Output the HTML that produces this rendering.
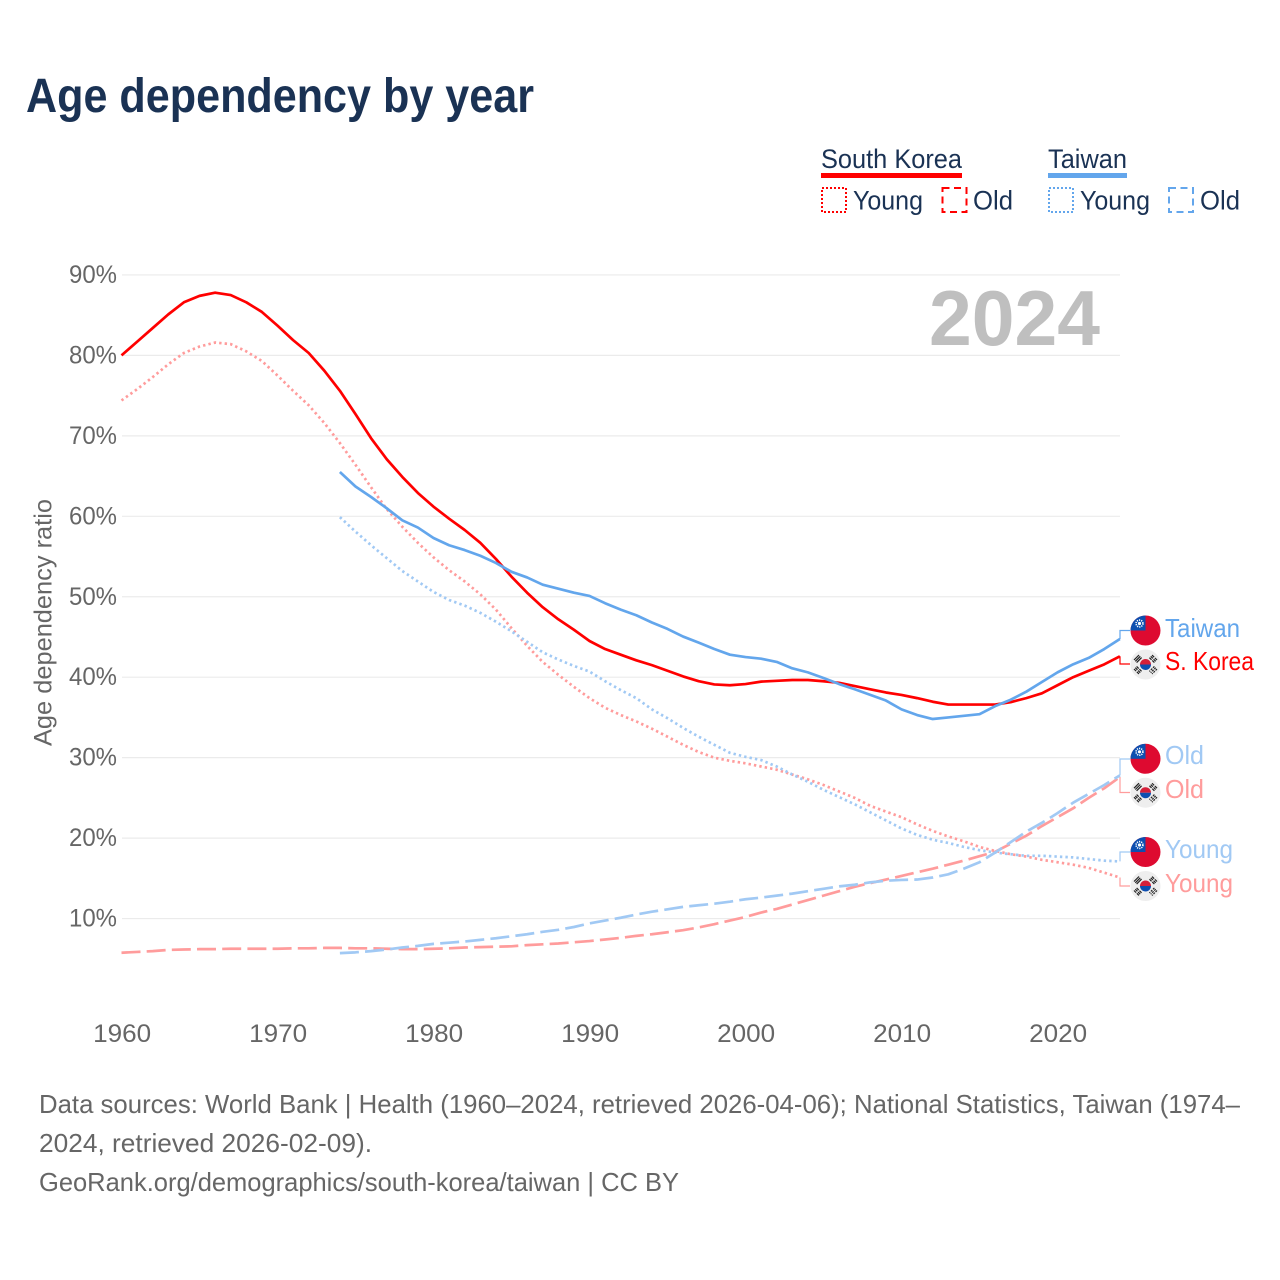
<!DOCTYPE html>
<html lang="en">
<head>
<meta charset="utf-8">
<title>Age dependency by year</title>
<style>
html,body{margin:0;padding:0;background:#fff;}
svg{display:block;font-family:"Liberation Sans",sans-serif;}
</style>
</head>
<body>
<svg id="chart" xmlns="http://www.w3.org/2000/svg" width="1280" height="1280" viewBox="0 0 1280 1280">
  <defs>
    <clipPath id="tw-clip"><circle cx="0" cy="0" r="15"/></clipPath>
    <symbol id="flag-tw" viewBox="-15 -15 30 30" overflow="visible">
      <circle r="15" fill="#de0a30"/>
      <g clip-path="url(#tw-clip)"><rect x="-15" y="-15" width="15" height="15" fill="#0d4fb0"/></g>
      <circle cx="-6" cy="-7" r="3.4" fill="#0d4fb0" stroke="#fff" stroke-width="1.6" stroke-dasharray="1.2 1"/>
      <circle cx="-6" cy="-7" r="1.6" fill="#fff"/>
    </symbol>
    <symbol id="flag-kr" viewBox="-15 -15 30 30" overflow="visible">
      <circle r="15" fill="#eeeeee"/>
      <path d="M-5.5 0A5.5 5.5 0 0 1 5.5 0Z" fill="#d5203a"/>
      <path d="M-5.5 0A5.5 5.5 0 0 0 5.5 0Z" fill="#0d4fb0"/>
      <g stroke="#222" stroke-width="1.2">
        <path d="M-11.5 -4.5L-6.5 -9.5M-10.2 -3.2L-5.2 -8.2M-8.9 -1.9L-3.9 -6.9" transform="rotate(0)" stroke-dasharray="none"/>
        <path d="M11.5 -4.5L6.5 -9.5M10.2 -3.2L5.2 -8.2M8.9 -1.9L3.9 -6.9" stroke-dasharray="3 1"/>
        <path d="M-11.5 4.5L-6.5 9.5M-10.2 3.2L-5.2 8.2M-8.9 1.9L-3.9 6.9" stroke-dasharray="3 1"/>
        <path d="M11.5 4.5L6.5 9.5M10.2 3.2L5.2 8.2M8.9 1.9L3.9 6.9" stroke-dasharray="2 1"/>
      </g>
    </symbol>
  </defs>

  <text x="26" y="112" font-size="48" font-weight="700" fill="#1a3254" textLength="508" lengthAdjust="spacingAndGlyphs">Age dependency by year</text>

  <g font-size="27" fill="#1a3254">
    <g>
      <text x="821" y="168" textLength="141" lengthAdjust="spacingAndGlyphs">South Korea</text>
      <rect x="821" y="173" width="141" height="5" fill="#ff0000"/>
      <rect x="822" y="188" width="24" height="24" fill="none" stroke="#ff0000" stroke-width="2" stroke-dasharray="2 2"/>
      <text x="853" y="209.500" textLength="70" lengthAdjust="spacingAndGlyphs">Young</text>
      <rect x="942.500" y="188" width="24" height="24" fill="none" stroke="#ff0000" stroke-width="2" stroke-dasharray="7 4.500"/>
      <text x="973" y="209.500" textLength="40" lengthAdjust="spacingAndGlyphs">Old</text>
    </g>
    <g>
      <text x="1048" y="168" textLength="79" lengthAdjust="spacingAndGlyphs">Taiwan</text>
      <rect x="1048" y="173" width="79" height="5" fill="#63a6ec"/>
      <rect x="1049" y="188" width="24" height="24" fill="none" stroke="#63a6ec" stroke-width="2" stroke-dasharray="2 2"/>
      <text x="1080" y="209.500" textLength="70" lengthAdjust="spacingAndGlyphs">Young</text>
      <rect x="1169" y="188" width="24" height="24" fill="none" stroke="#63a6ec" stroke-width="2" stroke-dasharray="7 4.500"/>
      <text x="1200" y="209.500" textLength="40" lengthAdjust="spacingAndGlyphs">Old</text>
    </g>
  </g>

  <g id="grid"></g>
  <text x="929" y="345" font-size="78" font-weight="700" fill="#bfbfbf" textLength="171" lengthAdjust="spacingAndGlyphs">2024</text>
  <g id="y-ticks" font-size="25" fill="#666666"></g>
  <g id="x-ticks" font-size="25" fill="#666666"></g>
  <text transform="translate(51.500,746) rotate(-90)" font-size="25" fill="#666666" textLength="247" lengthAdjust="spacingAndGlyphs">Age dependency ratio</text>

  <g id="connectors"></g>
  <g id="series"></g>

  <g font-size="26">
    <use href="#flag-tw" x="1130.500" y="615.500" width="30" height="30"/>
    <text x="1165" y="637" fill="#63a6ec" textLength="75" lengthAdjust="spacingAndGlyphs">Taiwan</text>
    <use href="#flag-kr" x="1130.500" y="649.500" width="30" height="30"/>
    <text x="1165" y="670" fill="#ff0000" textLength="89" lengthAdjust="spacingAndGlyphs">S. Korea</text>
    <use href="#flag-tw" x="1130.500" y="743.800" width="30" height="30"/>
    <text x="1165" y="764" fill="#a1c9f4" textLength="39" lengthAdjust="spacingAndGlyphs">Old</text>
    <use href="#flag-kr" x="1130.500" y="777.700" width="30" height="30"/>
    <text x="1165" y="798" fill="#ff9c9c" textLength="39" lengthAdjust="spacingAndGlyphs">Old</text>
    <use href="#flag-tw" x="1130.500" y="837" width="30" height="30"/>
    <text x="1165" y="858" fill="#a1c9f4" textLength="68" lengthAdjust="spacingAndGlyphs">Young</text>
    <use href="#flag-kr" x="1130.500" y="871" width="30" height="30"/>
    <text x="1165" y="892" fill="#ff9c9c" textLength="68" lengthAdjust="spacingAndGlyphs">Young</text>
  </g>

  <g font-size="26" fill="#666666">
    <text x="39" y="1113" textLength="1201" lengthAdjust="spacingAndGlyphs">Data sources: World Bank | Health (1960–2024, retrieved 2026-04-06); National Statistics, Taiwan (1974–</text>
    <text x="39" y="1152" textLength="333" lengthAdjust="spacingAndGlyphs">2024, retrieved 2026-02-09).</text>
    <text x="39" y="1191" textLength="640" lengthAdjust="spacingAndGlyphs">GeoRank.org/demographics/south-korea/taiwan | CC BY</text>
  </g>
</svg>

<script>
const yTickValues = [10, 20, 30, 40, 50, 60, 70, 80, 90];
const yTickLabels = ["10%", "20%", "30%", "40%", "50%", "60%", "70%", "80%", "90%"];
const xTickValues = [1960, 1970, 1980, 1990, 2000, 2010, 2020];
const xTickLabels = ["1960", "1970", "1980", "1990", "2000", "2010", "2020"];

const koreaStartYear = 1960;
const taiwanStartYear = 1974;

const koreaTotal = [80.0,81.7,83.4,85.1,86.6,87.4,87.8,87.5,86.6,85.4,83.7,81.9,80.3,78.1,75.6,72.7,69.7,67.1,64.9,62.9,61.2,59.7,58.3,56.7,54.7,52.5,50.5,48.7,47.2,45.9,44.5,43.5,42.8,42.1,41.5,40.8,40.1,39.5,39.1,39.0,39.15,39.45,39.55,39.65,39.65,39.5,39.3,38.9,38.5,38.1,37.8,37.4,36.95,36.6,36.6,36.6,36.6,36.9,37.4,38.0,39.0,40.0,40.8,41.6,42.6];
const koreaYoung = [74.4,75.8,77.3,78.9,80.3,81.1,81.6,81.4,80.5,79.3,77.5,75.6,73.8,71.6,69.1,66.4,63.6,60.9,58.7,56.7,54.9,53.3,51.9,50.3,48.4,46.1,43.9,41.9,40.3,38.8,37.4,36.2,35.3,34.5,33.6,32.6,31.6,30.7,30.0,29.6,29.3,28.9,28.5,27.9,27.3,26.6,25.8,25.0,24.0,23.3,22.6,21.7,20.9,20.2,19.6,18.9,18.4,18.0,17.7,17.3,17.0,16.7,16.3,15.7,15.1];
const koreaOld = [5.75,5.85,5.95,6.1,6.15,6.2,6.2,6.25,6.25,6.25,6.25,6.3,6.3,6.35,6.35,6.3,6.3,6.25,6.2,6.2,6.25,6.3,6.4,6.45,6.5,6.55,6.7,6.8,6.9,7.05,7.2,7.4,7.6,7.85,8.05,8.3,8.55,8.9,9.3,9.75,10.2,10.75,11.2,11.75,12.3,12.85,13.4,13.95,14.4,14.85,15.3,15.75,16.2,16.7,17.2,17.75,18.3,19.3,20.3,21.5,22.6,23.7,25.0,26.2,27.6];

const taiwanTotal = [65.5,63.7,62.4,61.0,59.5,58.6,57.3,56.4,55.8,55.1,54.2,53.1,52.4,51.5,51.0,50.5,50.1,49.2,48.4,47.7,46.8,46.0,45.05,44.3,43.5,42.8,42.5,42.3,41.9,41.1,40.6,39.9,39.15,38.5,37.8,37.1,36.0,35.3,34.8,35.0,35.2,35.4,36.4,37.2,38.2,39.4,40.6,41.6,42.4,43.5,44.75];
const taiwanYoung = [59.9,58.1,56.4,54.8,53.2,51.9,50.6,49.6,48.9,48.0,46.9,45.7,44.4,43.1,42.2,41.4,40.7,39.5,38.4,37.4,36.0,34.9,33.7,32.6,31.6,30.6,30.1,29.7,28.9,27.9,27.0,26.0,25.1,24.2,23.2,22.2,21.2,20.4,19.8,19.4,18.9,18.5,18.2,18.0,17.8,17.8,17.7,17.6,17.4,17.2,17.1];
const taiwanOld = [5.7,5.8,5.95,6.15,6.4,6.6,6.85,7.0,7.15,7.35,7.55,7.8,8.05,8.35,8.6,8.95,9.4,9.75,10.1,10.5,10.85,11.15,11.45,11.65,11.85,12.1,12.4,12.6,12.85,13.1,13.4,13.7,14.0,14.2,14.5,14.7,14.8,14.85,15.1,15.5,16.2,17.0,18.2,19.5,20.8,21.9,23.1,24.4,25.5,26.6,27.8];

const SVG_NS = "http://www.w3.org/2000/svg";
function xScale(year) { return 121.5 + (year - 1960) * 15.6; }
function yScale(pct) { return 999 - pct * 8.045; }
function make(tag) { return document.createElementNS(SVG_NS, tag); }

const gridGroup = document.getElementById("grid");
const yTickGroup = document.getElementById("y-ticks");
yTickValues.forEach(function (v, i) {
  const line = make("line");
  
  
  line.setAttribute("x1", 122);
  line.setAttribute("x2", 1120);
  line.setAttribute("y1", yScale(v));
  line.setAttribute("y2", yScale(v));
  line.setAttribute("stroke", "#ebebeb");
  line.setAttribute("stroke-width", "1.2");
  gridGroup.appendChild(line);
  const label = make("text");
  
  
  label.setAttribute("x", 69);
  label.setAttribute("y", yScale(v) + 8);
  label.setAttribute("textLength", 48);
  label.setAttribute("lengthAdjust", "spacingAndGlyphs");
  label.textContent = yTickLabels[i];
  yTickGroup.appendChild(label);
});

const xTickGroup = document.getElementById("x-ticks");
xTickValues.forEach(function (v, i) {
  const label = make("text");
  
  
  label.setAttribute("x", xScale(v) - 28.3);
  label.setAttribute("y", 1042);
  label.setAttribute("textLength", 58);
  label.setAttribute("lengthAdjust", "spacingAndGlyphs");
  label.textContent = xTickLabels[i];
  xTickGroup.appendChild(label);
});

function pathFor(values, startYear) {
  return values.map(function (v, i) {
    return (i ? "L" : "M") + xScale(startYear + i).toFixed(2) + " " + yScale(v).toFixed(2);
  }).join("");
}

const seriesGroup = document.getElementById("series");
function drawSeries(name, values, startYear, color, dash) {
  const p = make("path");
  
  
  p.setAttribute("d", pathFor(values, startYear));
  p.setAttribute("fill", "none");
  p.setAttribute("stroke", color);
  p.setAttribute("stroke-width", "2.7");
  p.setAttribute("stroke-linejoin", "round");
  if (dash) p.setAttribute("stroke-dasharray", dash);
  seriesGroup.appendChild(p);
}
const DOT = "2.4 3.1";
const DASH = "19 6.2";
drawSeries("korea-young-line", koreaYoung, koreaStartYear, "#ff9c9c", DOT);
drawSeries("korea-old-line", koreaOld, koreaStartYear, "#ff9c9c", DASH);
drawSeries("taiwan-young-line", taiwanYoung, taiwanStartYear, "#a1c9f4", DOT);
drawSeries("taiwan-old-line", taiwanOld, taiwanStartYear, "#a1c9f4", DASH);
drawSeries("korea-total-line", koreaTotal, koreaStartYear, "#ff0000", null);
drawSeries("taiwan-total-line", taiwanTotal, taiwanStartYear, "#63a6ec", null);

const connectorGroup = document.getElementById("connectors");
function drawConnector(name, values, labelY, color) {
  const c = make("path");
  
  
  const end = yScale(values[values.length - 1]);
  c.setAttribute("d", "M1120 " + end.toFixed(2) + "V" + labelY + "H1130");
  c.setAttribute("fill", "none");
  c.setAttribute("stroke", color);
  c.setAttribute("stroke-width", "1.2");
  connectorGroup.appendChild(c);
}
drawConnector("taiwan-total-connector", taiwanTotal, 630.5, "#63a6ec");
drawConnector("korea-total-connector", koreaTotal, 664, "#ff0000");
drawConnector("taiwan-old-connector", taiwanOld, 759, "#a1c9f4");
drawConnector("korea-old-connector", koreaOld, 792.5, "#ff9c9c");
drawConnector("taiwan-young-connector", taiwanYoung, 852, "#a1c9f4");
drawConnector("korea-young-connector", koreaYoung, 886, "#ff9c9c");
</script>
</body>
</html>
